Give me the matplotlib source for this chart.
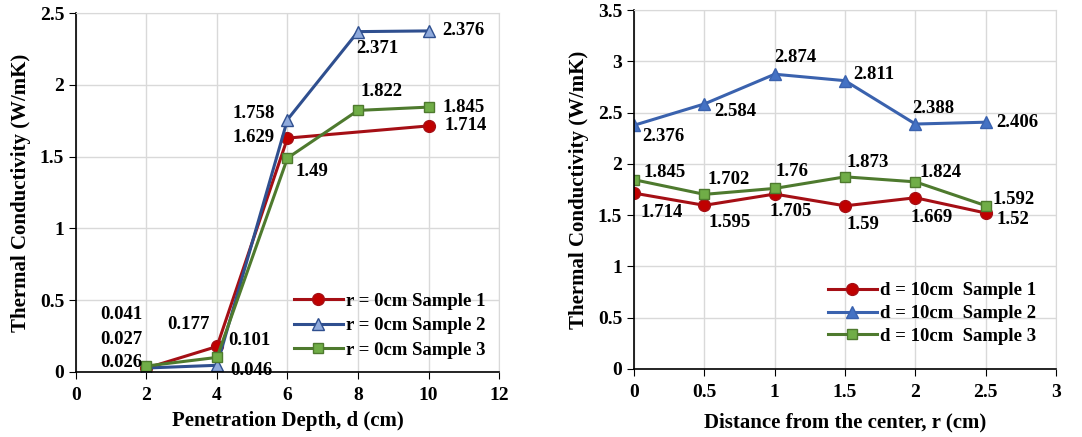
import matplotlib
matplotlib.use("Agg")
import matplotlib.pyplot as plt

plt.rcParams['font.family'] = ['Liberation Serif', 'DejaVu Serif']
plt.rcParams['font.weight'] = 'bold'

# left chart: conductivity vs penetration depth (r = 0cm)
depth_s1 = [2, 4, 6, 10]
cond_s1 = [0.026, 0.177, 1.629, 1.714]
depth_s2 = [2, 4, 6, 8, 10]
cond_s2 = [0.027, 0.046, 1.758, 2.371, 2.376]
depth_s3 = [2, 4, 6, 8, 10]
cond_s3 = [0.041, 0.101, 1.49, 1.822, 1.845]
left_labels = ["r = 0cm Sample 1", "r = 0cm Sample 2", "r = 0cm Sample 3"]

# right chart: conductivity vs distance from center (d = 10cm)
dist = [0, 0.5, 1, 1.5, 2, 2.5]
rcond_s1 = [1.714, 1.595, 1.705, 1.59, 1.669, 1.52]
rcond_s2 = [2.376, 2.584, 2.874, 2.811, 2.388, 2.406]
rcond_s3 = [1.845, 1.702, 1.76, 1.873, 1.824, 1.592]
right_labels = ["d = 10cm  Sample 1", "d = 10cm  Sample 2", "d = 10cm  Sample 3"]

RED, RED_FACE = "#A50F15", "#C00000"
BLUE_L, BLUE_L_FACE = "#2F4F8F", "#8FAADC"
BLUE_R, BLUE_R_FACE = "#3A62AE", "#4472C4"
GREEN, GREEN_FACE = "#4E7A2E", "#70AD47"

FS = 13.5      # data labels / legend
TICK_FS = 14
AXIS_FS = 15

# label offsets in pixels (dx, dy, horizontal alignment)
left_off_s1 = [(-4, 6, 'right'), (-28, 22, 'center'), (-13, 1, 'right'), (16, 0, 'left')]
left_off_s2 = [(-4, 29, 'right'), (13, -5, 'left'), (-13, 6, 'right'), (19, -17, 'center'), (14, 0, 'left')]
left_off_s3 = [(-4, 52, 'right'), (11, 17, 'left'), (8, -13, 'left'), (24, 19, 'center'), (14, 0, 'left')]

right_off_s1 = [(6, -19), (4, -17), (-5, -17), (1, -19), (-5, -20), (11, -6)]
right_off_s2 = [(8, -11), (10, -8), (0, 17), (8, 6), (-3, 16), (11, 0)]
right_off_s3 = [(9, 7), (3, 15), (1, 17), (1, 14), (4, 9), (7, 6)]


def label_points(ax, xs, ys, offsets):
    for x, y, off in zip(xs, ys, offsets):
        dx, dy = off[0], off[1]
        ha = off[2] if len(off) > 2 else 'left'
        ax.annotate(f"{y:g}", (x, y), xytext=(dx, dy), textcoords='offset pixels',
                    ha=ha, va='center', fontsize=FS, fontweight='bold')


def style_axes(ax):
    ax.grid(True, color="#D9D9D9", linewidth=1)
    ax.set_axisbelow(True)
    for s in ['top', 'right']:
        ax.spines[s].set_color("#D9D9D9")
    for s in ['left', 'bottom']:
        ax.spines[s].set_color("black")
        ax.spines[s].set_linewidth(1.2)
    ax.tick_params(labelsize=TICK_FS, length=5, direction='out')
    ax.tick_params(axis='x', pad=6)
    ax.set_ylabel("Thermal Conductivity (W/mK)", fontsize=AXIS_FS, fontweight='bold', labelpad=6)


fig = plt.figure(figsize=(10.82, 4.37), dpi=100)
ax1 = fig.add_axes([0.0702, 0.149, 0.391, 0.821])
ax2 = fig.add_axes([0.586, 0.156, 0.390, 0.821])

ax1.plot(depth_s1, cond_s1, color=RED, lw=2.2, marker='o', ms=8.5, mfc=RED_FACE, mec=RED, label=left_labels[0])
ax1.plot(depth_s2, cond_s2, color=BLUE_L, lw=2.2, marker='^', ms=8.5, mfc=BLUE_L_FACE, mec=BLUE_L, label=left_labels[1])
ax1.plot(depth_s3, cond_s3, color=GREEN, lw=2.2, marker='s', ms=7.5, mfc=GREEN_FACE, mec=GREEN, label=left_labels[2])
label_points(ax1, depth_s1, cond_s1, left_off_s1)
label_points(ax1, depth_s2, cond_s2, left_off_s2)
label_points(ax1, depth_s3, cond_s3, left_off_s3)
ax1.set_xlim(0, 12)
ax1.set_ylim(0, 2.5)
ax1.set_xticks(range(0, 13, 2))
ax1.set_yticks([0, 0.5, 1, 1.5, 2, 2.5])
ax1.set_yticklabels(["0", "0.5", "1", "1.5", "2", "2.5"])
ax1.set_xlabel("Penetration Depth, d (cm)", fontsize=AXIS_FS, fontweight='bold', labelpad=5)
style_axes(ax1)
ax1.legend(loc='lower right', bbox_to_anchor=(1.0, 0.0), frameon=False, fontsize=FS,
           handlelength=2.6, labelspacing=0.4, handletextpad=0.2, borderaxespad=0.3)

ax2.plot(dist, rcond_s1, color=RED, lw=2.2, marker='o', ms=8.5, mfc=RED_FACE, mec=RED, label=right_labels[0])
ax2.plot(dist, rcond_s2, color=BLUE_R, lw=2.2, marker='^', ms=8.5, mfc=BLUE_R_FACE, mec=BLUE_R, label=right_labels[1])
ax2.plot(dist, rcond_s3, color=GREEN, lw=2.2, marker='s', ms=7.5, mfc=GREEN_FACE, mec=GREEN, label=right_labels[2])
label_points(ax2, dist, rcond_s1, right_off_s1)
label_points(ax2, dist, rcond_s2, right_off_s2)
label_points(ax2, dist, rcond_s3, right_off_s3)
ax2.set_xlim(0, 3)
ax2.set_ylim(0, 3.5)
ax2.set_xticks([0, 0.5, 1, 1.5, 2, 2.5, 3])
ax2.set_xticklabels(["0", "0.5", "1", "1.5", "2", "2.5", "3"])
ax2.set_yticks([0, 0.5, 1, 1.5, 2, 2.5, 3, 3.5])
ax2.set_yticklabels(["0", "0.5", "1", "1.5", "2", "2.5", "3", "3.5"])
ax2.set_xlabel("Distance from the center, r (cm)", fontsize=AXIS_FS, fontweight='bold', labelpad=8)
style_axes(ax2)
ax2.legend(loc='lower right', bbox_to_anchor=(0.985, 0.03), frameon=False, fontsize=FS,
           handlelength=2.6, labelspacing=0.3, handletextpad=0.2, borderaxespad=0.3)

fig.savefig("out.png", dpi=100)
